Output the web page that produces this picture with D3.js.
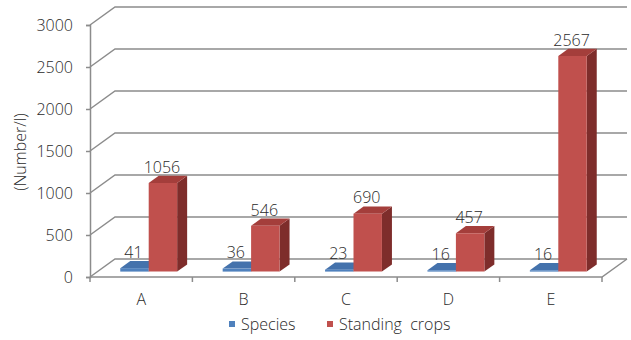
<!DOCTYPE html>
<html>
<head>
<meta charset="utf-8">
<script src="https://cdn.jsdelivr.net/npm/d3@7"></script>
<style>
  html, body { margin: 0; padding: 0; background: #fff; }
  svg { display: block; font-family: "Open Sans", sans-serif; font-weight: 300; }
  svg text { font-family: "Open Sans", sans-serif; font-weight: 300; }
</style>
</head>
<body>
<svg id="chart" width="631" height="340"></svg>
<script>
// Stations and the two measured series
const categories = ["A", "B", "C", "D", "E"];
const seriesNames = ["Species", "Standing crops"];
const species = [41, 36, 23, 16, 16];
const standingCrops = [1056, 546, 690, 457, 2567];
const yTicks = [0, 500, 1000, 1500, 2000, 2500, 3000];
const yTitle = "(Number/l)";

const svg = d3.select("#chart");
const FS = 16;
const textColor = "#2a2a2a";

// Front plane of the 3D box, plus the depth offset toward the back wall
const x0 = d3.scaleBand().domain(categories).range([90, 602]);
const x1 = d3.scaleBand().domain(seriesNames).range([0, x0.bandwidth()]).paddingInner(0).paddingOuter(0.8);
const y = d3.scaleLinear().domain([0, 3000]).range([277, 25]);
const DX = 25, DY = -18;
const proj = (px, py, z) => [px + z * DX, py + z * DY];

const palette = {
  "Species": { front: "#4F81BD", top: "#4472AC", side: "#385D8A" },
  "Standing crops": { front: "#C0504D", top: "#A43E3B", side: "#7E2D2B" }
};
const gridColor = "#8c8c8c";

// Back wall gridlines with their diagonal return on the left side wall
const grid = svg.append("g").attr("fill", "none").attr("stroke", gridColor).attr("stroke-width", 1.5);
yTicks.forEach(t => {
  const a = proj(x0.range()[0], y(t), 0);
  const b = proj(x0.range()[0], y(t), 1);
  const c = proj(x0.range()[1], y(t), 1);
  grid.append("path").attr("d", d3.line()([a, b, c]));
});

// Floor: front and right edges
const floorFrontL = proj(x0.range()[0], y(0), 0);
const floorFrontR = proj(x0.range()[1], y(0), 0);
const floorBackR = proj(x0.range()[1], y(0), 1);
grid.append("path").attr("d", d3.line()([floorFrontL, floorFrontR, floorBackR]));

// Category boundary tick marks below the floor
const bounds = categories.map(c => x0(c)).concat([x0.range()[1]]);
grid.selectAll("line.ctick").data(bounds).join("line")
  .attr("x1", d => d).attr("x2", d => d)
  .attr("y1", y(0)).attr("y2", y(0) + 5);

// Value axis
const yAxis = svg.append("g")
  .attr("transform", `translate(${x0.range()[0]},0)`)
  .call(d3.axisLeft(y).tickValues(yTicks).tickSize(4).tickPadding(13).tickFormat(d3.format("d")));
yAxis.attr("font-family", null);
yAxis.select(".domain").attr("stroke", gridColor).attr("stroke-width", 1.5);
yAxis.selectAll(".tick line").attr("stroke", gridColor).attr("stroke-width", 1.5);
yAxis.selectAll(".tick text").attr("font-size", FS).attr("fill", textColor);

// Category labels
const xAxis = svg.append("g")
  .attr("transform", `translate(0,${y(0)})`)
  .call(d3.axisBottom(x0).tickSize(0).tickPadding(17));
xAxis.attr("font-family", null);
xAxis.select(".domain").remove();
xAxis.selectAll(".tick text").attr("font-size", FS).attr("fill", textColor);

// Axis title
svg.append("text")
  .attr("transform", `translate(26,152) rotate(-90)`)
  .attr("text-anchor", "middle")
  .attr("font-size", FS).attr("fill", textColor)
  .text(yTitle);

// 3D columns sitting in the middle of the floor depth
const Z0 = 0.3, Z1 = 0.7;
const rows = [];
categories.forEach((c, i) => {
  rows.push({ cat: c, name: "Species", value: species[i] });
  rows.push({ cat: c, name: "Standing crops", value: standingCrops[i] });
});

const bars = svg.append("g");
rows.forEach(d => {
  const xl = x0(d.cat) + x1(d.name);
  const xr = xl + x1.bandwidth();
  const yb = y(0), yt = y(d.value);
  const col = palette[d.name];
  const g = bars.append("g");
  const poly = pts => "M" + pts.map(p => p.join(",")).join("L") + "Z";
  // right side face
  g.append("path").attr("fill", col.side)
    .attr("d", poly([proj(xr, yb, Z0), proj(xr, yb, Z1), proj(xr, yt, Z1), proj(xr, yt, Z0)]));
  // top face
  g.append("path").attr("fill", col.top)
    .attr("d", poly([proj(xl, yt, Z0), proj(xr, yt, Z0), proj(xr, yt, Z1), proj(xl, yt, Z1)]));
  // front face
  g.append("path").attr("fill", col.front)
    .attr("d", poly([proj(xl, yb, Z0), proj(xr, yb, Z0), proj(xr, yt, Z0), proj(xl, yt, Z0)]));
  // value label
  const lp = proj((xl + xr) / 2, yt, Z1);
  g.append("text")
    .attr("x", proj((xl + xr) / 2, yt, Z0)[0] - 1)
    .attr("y", lp[1] - 3)
    .attr("text-anchor", "middle")
    .attr("font-size", FS).attr("fill", textColor)
    .text(d.value);
});

// Legend
const legend = svg.append("g").attr("font-size", FS).attr("fill", textColor);
const legendItems = [
  { name: "Species", x: 229 },
  { name: "Standing crops", x: 327 }
];
legendItems.forEach(it => {
  legend.append("rect").attr("x", it.x).attr("y", 321).attr("width", 6).attr("height", 6)
    .attr("fill", palette[it.name].front);
  legend.append("text").attr("x", it.x + 12).attr("y", 330).attr("fill", textColor)
    .attr("xml:space", "preserve")
    .text(it.name.replace(" ", "  "));
});
</script>
</body>
</html>
